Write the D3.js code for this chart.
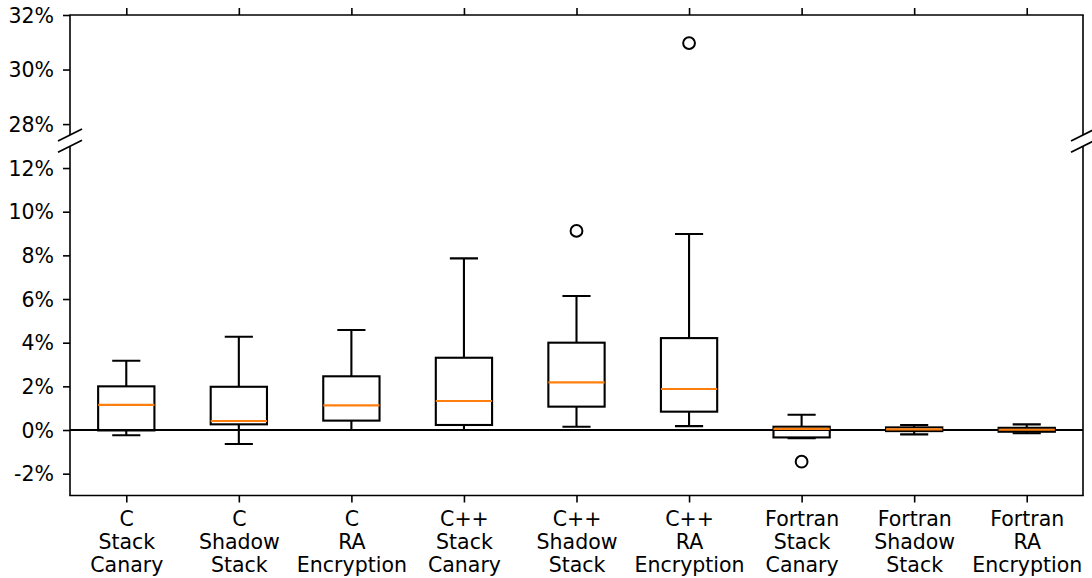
<!DOCTYPE html>
<html>
<head>
<meta charset="utf-8">
<title></title>
<script src="https://cdn.jsdelivr.net/npm/d3@7"></script>
<style>
  body { margin: 0; background: #fff; }
  text { font-family: "DejaVu Sans", sans-serif; }
</style>
</head>
<body>
<svg id="svg"></svg>
<script>
var width = 1092, height = 578;

// box summary values, in percent
var categories = [
  ["C", "Stack", "Canary"], ["C", "Shadow", "Stack"], ["C", "RA", "Encryption"],
  ["C++", "Stack", "Canary"], ["C++", "Shadow", "Stack"], ["C++", "RA", "Encryption"],
  ["Fortran", "Stack", "Canary"], ["Fortran", "Shadow", "Stack"], ["Fortran", "RA", "Encryption"]
];
var whiskerLow  = [-0.24, -0.64, 0.0, 0.0, 0.15, 0.18, -0.38, -0.20, -0.15];
var q1          = [-0.02, 0.26, 0.43, 0.23, 1.07, 0.84, -0.34, -0.05, -0.08];
var medians     = [1.15, 0.41, 1.13, 1.33, 2.18, 1.88, 0.05, 0.03, 0.01];
var q3          = [2.00, 1.98, 2.46, 3.31, 4.00, 4.21, 0.15, 0.12, 0.10];
var whiskerHigh = [3.17, 4.27, 4.58, 7.86, 6.14, 8.98, 0.70, 0.23, 0.26];
var outliers    = [[4, 9.12], [5, 30.97], [6, -1.45]];  // [box index, value]

var topTicks = [28, 30, 32];
var bottomTicks = [-2, 0, 2, 4, 6, 8, 10, 12];

var left = 70, right = 1083;
var fontSize = '20.5px';
var lw = 2.1;
var x = d3.scaleLinear().domain([0.5, 9.5]).range([left, right]);
var yTop = d3.scaleLinear().domain([27.6, 32]).range([135, 15]);
var yBot = d3.scaleLinear().domain([-3, 13]).range([495.5, 146.2]);

var svg = d3.select('#svg').attr('width', width).attr('height', height);

var fmt = function (d) { return d + '%'; };

function drawPanel(g, y, id) {
  var r = y.range();
  svg.append('clipPath').attr('id', id)
    .append('rect').attr('x', left).attr('y', r[1] - 1).attr('width', right - left).attr('height', r[0] - r[1] + 2);
  var c = g.append('g').attr('clip-path', 'url(#' + id + ')');

  // zero line
  c.append('line')
    .attr('x1', left).attr('x2', right)
    .attr('y1', y(0)).attr('y2', y(0))
    .attr('stroke', '#000').attr('stroke-width', 1.8);

  var idx = d3.range(categories.length);
  var hb = x(1.25) - x(1);
  var cap = hb / 2;

  var box = c.selectAll('g.box').data(idx).join('g').attr('class', 'box');
  box.append('line')
    .attr('x1', function (i) { return x(i + 1); }).attr('x2', function (i) { return x(i + 1); })
    .attr('y1', function (i) { return y(q3[i]); }).attr('y2', function (i) { return y(whiskerHigh[i]); })
    .attr('stroke', '#000').attr('stroke-width', lw);
  box.append('line')
    .attr('x1', function (i) { return x(i + 1); }).attr('x2', function (i) { return x(i + 1); })
    .attr('y1', function (i) { return y(q1[i]); }).attr('y2', function (i) { return y(whiskerLow[i]); })
    .attr('stroke', '#000').attr('stroke-width', lw);
  box.append('line')
    .attr('x1', function (i) { return x(i + 1) - cap; }).attr('x2', function (i) { return x(i + 1) + cap; })
    .attr('y1', function (i) { return y(whiskerHigh[i]); }).attr('y2', function (i) { return y(whiskerHigh[i]); })
    .attr('stroke', '#000').attr('stroke-width', lw);
  box.append('line')
    .attr('x1', function (i) { return x(i + 1) - cap; }).attr('x2', function (i) { return x(i + 1) + cap; })
    .attr('y1', function (i) { return y(whiskerLow[i]); }).attr('y2', function (i) { return y(whiskerLow[i]); })
    .attr('stroke', '#000').attr('stroke-width', lw);
  box.append('rect')
    .attr('x', function (i) { return x(i + 1) - hb; })
    .attr('width', hb * 2)
    .attr('y', function (i) { return y(q3[i]); })
    .attr('height', function (i) { return y(q1[i]) - y(q3[i]); })
    .attr('fill', 'none').attr('stroke', '#000').attr('stroke-width', lw);
  box.append('line')
    .attr('x1', function (i) { return x(i + 1) - hb; }).attr('x2', function (i) { return x(i + 1) + hb; })
    .attr('y1', function (i) { return y(medians[i]); }).attr('y2', function (i) { return y(medians[i]); })
    .attr('stroke', '#ff7f0e').attr('stroke-width', lw);

  c.selectAll('circle.flier').data(outliers).join('circle').attr('class', 'flier')
    .attr('cx', function (d) { return x(d[0] + 1); })
    .attr('cy', function (d) { return y(d[1]); })
    .attr('r', 5.9)
    .attr('fill', 'none').attr('stroke', '#000').attr('stroke-width', 2);
}

var gTop = svg.append('g');
var gBot = svg.append('g');
drawPanel(gTop, yTop, 'clipTop');
drawPanel(gBot, yBot, 'clipBot');

function styleAxis(a) {
  a.select('.domain').remove();
  a.selectAll('.tick line').attr('stroke', '#000').attr('stroke-width', 1.6);
  a.selectAll('.tick text').attr('fill', '#000').style('font-size', fontSize)
    .style('font-family', '"DejaVu Sans", sans-serif');
}

// y axes
var ayT = svg.append('g').attr('transform', 'translate(' + left + ',0)')
  .call(d3.axisLeft(yTop).tickValues(topTicks).tickFormat(fmt).tickSize(7).tickPadding(9));
styleAxis(ayT);
var ayB = svg.append('g').attr('transform', 'translate(' + left + ',0)')
  .call(d3.axisLeft(yBot).tickValues(bottomTicks).tickFormat(fmt).tickSize(7).tickPadding(9));
styleAxis(ayB);
ayT.selectAll('.tick text').attr('dy', '0.35em');
ayB.selectAll('.tick text').attr('dy', '0.35em');

// x ticks on top of upper panel (no labels)
var axT = svg.append('g').attr('transform', 'translate(0,' + yTop.range()[1] + ')')
  .call(d3.axisTop(x).tickValues(d3.range(1, 10)).tickFormat('').tickSize(7));
styleAxis(axT);

// x axis at bottom with multiline labels
var axB = svg.append('g').attr('transform', 'translate(0,' + yBot.range()[0] + ')')
  .call(d3.axisBottom(x).tickValues(d3.range(1, 10)).tickFormat('').tickSize(7));
styleAxis(axB);
axB.selectAll('.tick').each(function (d) {
  var t = d3.select(this).append('text')
    .attr('fill', '#000').attr('text-anchor', 'middle')
    .style('font-size', fontSize);
  categories[d - 1].forEach(function (s, k) {
    t.append('tspan').attr('x', 0).attr('y', 30 + k * 23).text(s);
  });
});

// spines
var sp = svg.append('g').attr('stroke', '#000').attr('stroke-width', 1.6).attr('fill', 'none');
[yTop, yBot].forEach(function (y) {
  var r = y.range();
  sp.append('line').attr('x1', left).attr('x2', left).attr('y1', r[0]).attr('y2', r[1]);
  sp.append('line').attr('x1', right).attr('x2', right).attr('y1', r[0]).attr('y2', r[1]);
});
sp.append('line').attr('x1', left - 0.8).attr('x2', right + 0.8).attr('y1', yTop.range()[1]).attr('y2', yTop.range()[1]);
sp.append('line').attr('x1', left - 0.8).attr('x2', right + 0.8).attr('y1', yBot.range()[0]).attr('y2', yBot.range()[0]);

// break marks
[left, right].forEach(function (xx) {
  [yTop.range()[0], yBot.range()[1]].forEach(function (yy) {
    sp.append('line')
      .attr('x1', xx - 12).attr('y1', yy + 6)
      .attr('x2', xx + 12).attr('y2', yy - 6)
      .attr('stroke-width', 1.8);
  });
});
</script>
</body>
</html>
